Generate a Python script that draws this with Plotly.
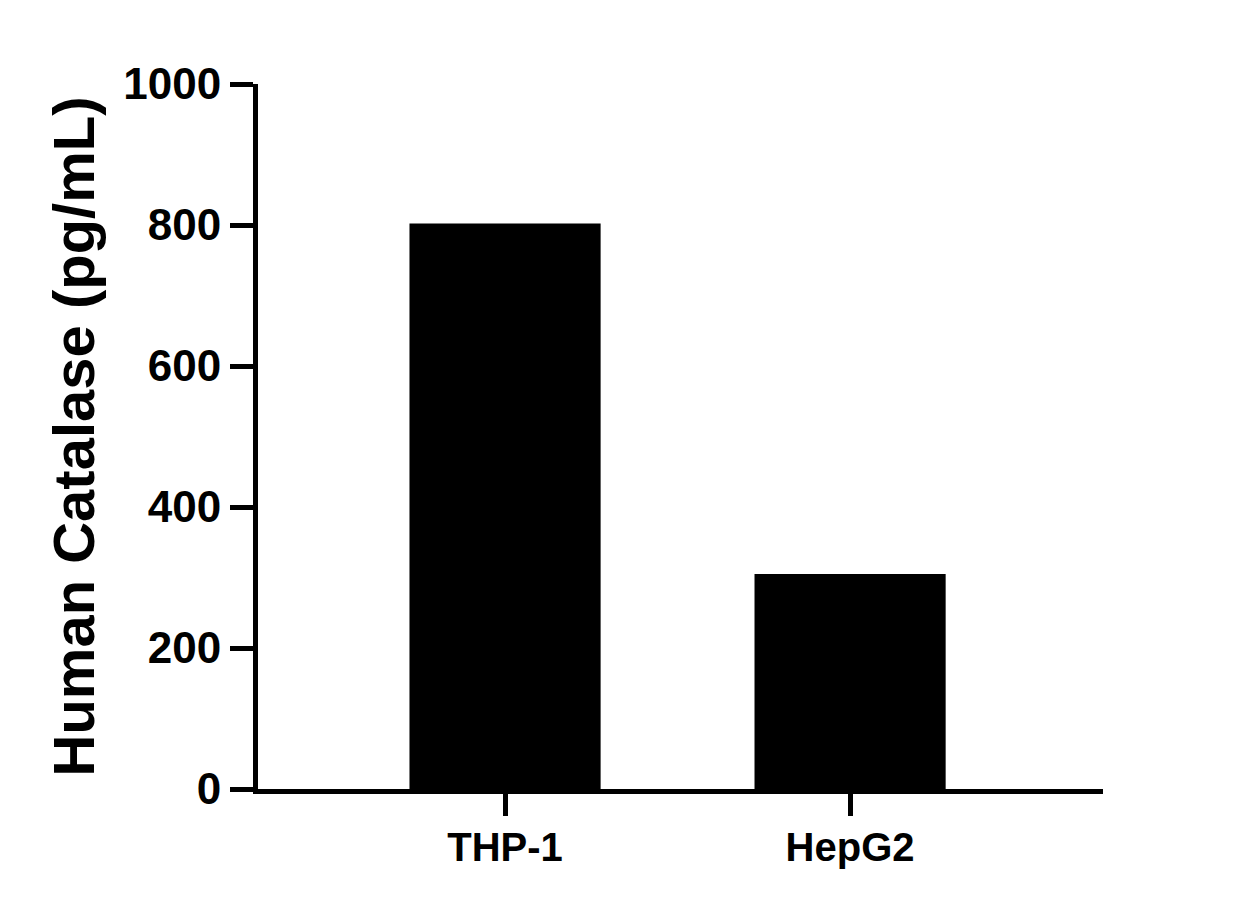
import plotly.graph_objects as go

# Data
cell_lines = ['THP-1', 'HepG2']
catalase_pg_ml = [802, 305]
y_ticks = [0, 200, 400, 600, 800, 1000]

fig = go.Figure()

fig.add_trace(go.Bar(x=cell_lines, y=catalase_pg_ml, width=0.554,
                     marker=dict(color='black', line=dict(width=0))))

x_font = dict(family='Liberation Sans, Arial', size=40, color='black', weight='bold')
y_font = dict(family='Liberation Sans, Arial', size=44, color='black', weight='bold')

# page body adds ~8px offset, so margins are shifted left/up by 8
fig.update_layout(
    width=1239, height=908,
    plot_bgcolor='white', paper_bgcolor='white',
    margin=dict(l=250, r=144, t=76, b=127),
    showlegend=False,
    font=dict(family='Liberation Sans, Arial', color='black'),
    xaxis=dict(range=[-0.716, 1.733], showgrid=False, zeroline=False,
               showline=True, linecolor='black', linewidth=5,
               ticks='outside', ticklen=22, tickwidth=5, tickcolor='black',
               tickfont=x_font, ticklabelstandoff=-3),
    yaxis=dict(range=[0, 1000], tickvals=y_ticks, showgrid=False, zeroline=False,
               showline=True, linecolor='black', linewidth=5,
               ticks='outside', ticklen=23, tickwidth=5, tickcolor='black',
               tickfont=y_font, ticklabelstandoff=0,
               title=dict(text='Human Catalase (pg/mL)', standoff=12,
                          font=dict(family='Liberation Sans, Arial', size=58,
                                    color='black', weight='bold'))),
)

fig.write_html("out.html")
